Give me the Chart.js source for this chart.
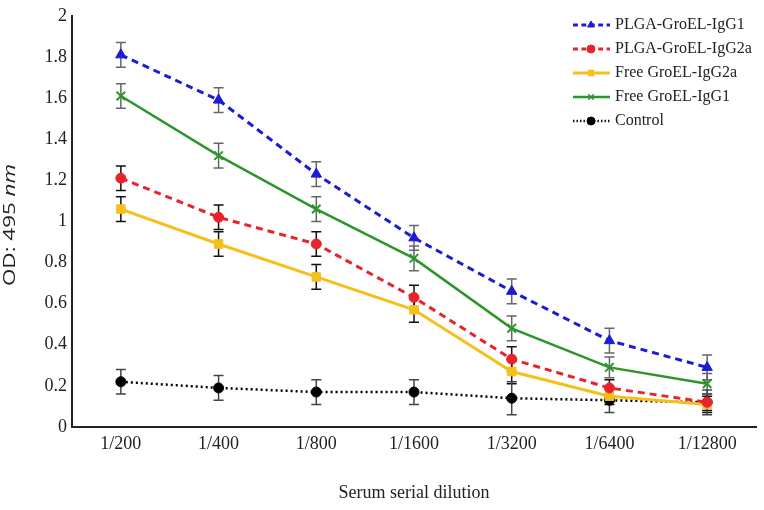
<!DOCTYPE html>
<html>
<head>
  <style>
    body { margin: 0; background: #fff; }
    canvas { display: block; }
  </style>
</head>
<body>
  <canvas id="odChart" width="764" height="510"></canvas>

  <script src="https://cdn.jsdelivr.net/npm/chart.js"></script>
  <script type="text/javascript">
    // dilutions on the x axis
    const dilutions = ['1/200', '1/400', '1/800', '1/1600', '1/3200', '1/6400', '1/12800'];

    // OD values, with their error bar half-heights
    const plgaIgG1 = [1.81, 1.59, 1.23, 0.92, 0.66, 0.42, 0.29];
    const plgaIgG1Err = [0.06, 0.06, 0.06, 0.06, 0.06, 0.06, 0.06];
    const plgaIgG2a = [1.21, 1.02, 0.89, 0.63, 0.33, 0.19, 0.12];
    const plgaIgG2aErr = [0.06, 0.06, 0.06, 0.06, 0.06, 0.04, 0.04];
    const freeIgG2a = [1.06, 0.89, 0.73, 0.57, 0.27, 0.15, 0.11];
    const freeIgG2aErr = [0.06, 0.06, 0.06, 0.06, 0.06, 0.04, 0.04];
    const freeIgG1 = [1.61, 1.32, 1.06, 0.82, 0.48, 0.29, 0.21];
    const freeIgG1Err = [0.06, 0.06, 0.06, 0.06, 0.06, 0.05, 0.05];
    const control = [0.22, 0.19, 0.17, 0.17, 0.14, 0.13, 0.12];
    const controlErr = [0.06, 0.06, 0.06, 0.06, 0.08, 0.06, 0.06];

    const serif = "'Liberation Serif', 'DejaVu Serif', serif";
    const sans = "'Open Sans', 'Noto Sans', sans-serif";

    function series(label, data, err, color, dash, width, style, radius, errColor) {
        return {
            label: label,
            data: data,
            err: err,
            errColor: errColor,
            borderColor: color,
            backgroundColor: color,
            borderDash: dash,
            borderWidth: width,
            pointStyle: style,
            pointRadius: radius,
            pointBorderWidth: style === 'crossRot' ? 2 : 1,
            tension: 0,
            fill: false
        };
    }

    const datasets = [
        series('PLGA-GroEL-IgG1', plgaIgG1, plgaIgG1Err, '#1c1cd6', [7, 5], 3, 'triangle', 6, '#666'),
        series('PLGA-GroEL-IgG2a', plgaIgG2a, plgaIgG2aErr, '#e8232a', [7, 5], 3, 'circle', 5, '#111'),
        series('Free GroEL-IgG2a', freeIgG2a, freeIgG2aErr, '#f4c01c', [], 3, 'rect', 6, '#111'),
        series('Free GroEL-IgG1', freeIgG1, freeIgG1Err, '#2c962c', [], 2.5, 'crossRot', 6, '#666'),
        series('Control', control, controlErr, '#000', [2, 3], 2.5, 'circle', 5, '#444')
    ];

    const extras = {
        id: 'extras',
        beforeDatasetsDraw(chart) {
            const ctx = chart.ctx;
            const y = chart.scales.y;
            ctx.save();
            ctx.lineWidth = 1.5;
            chart.data.datasets.forEach((ds, i) => {
                const meta = chart.getDatasetMeta(i);
                ctx.strokeStyle = ds.errColor;
                ds.data.forEach((v, j) => {
                    const x = meta.data[j].x;
                    const top = y.getPixelForValue(v + ds.err[j]);
                    const bot = y.getPixelForValue(v - ds.err[j]);
                    ctx.beginPath();
                    ctx.moveTo(x, top); ctx.lineTo(x, bot);
                    ctx.moveTo(x - 5, top); ctx.lineTo(x + 5, top);
                    ctx.moveTo(x - 5, bot); ctx.lineTo(x + 5, bot);
                    ctx.stroke();
                });
            });
            ctx.restore();
        },
        afterDraw(chart) {
            const ctx = chart.ctx;
            const area = chart.chartArea;
            ctx.save();
            ctx.fillStyle = '#222';

            // x title
            ctx.font = '18px ' + serif;
            ctx.textAlign = 'center';
            ctx.textBaseline = 'middle';
            ctx.fillText('Serum serial dilution', (area.left + area.right) / 2, 493);

            // y title with italic unit (narrow, tall face like the original)
            const part1 = 'OD: 495 ';
            const part2 = 'nm';
            ctx.font = '19px ' + sans;
            const w1 = ctx.measureText(part1).width;
            ctx.font = 'italic 19px ' + sans;
            const w2 = ctx.measureText(part2).width;
            ctx.translate(15, 225);
            ctx.rotate(-Math.PI / 2);
            ctx.scale(1.18, 0.85);
            ctx.textAlign = 'left';
            ctx.textBaseline = 'alphabetic';
            ctx.font = '19px ' + sans;
            ctx.fillText(part1, -(w1 + w2) / 2, 0);
            ctx.font = 'italic 19px ' + sans;
            ctx.fillText(part2, -(w1 + w2) / 2 + w1, 0);
            ctx.restore();

            // legend
            ctx.save();
            chart.data.datasets.forEach((ds, i) => {
                const ly = 25 + i * 24;
                ctx.strokeStyle = ds.borderColor;
                ctx.fillStyle = ds.borderColor;
                ctx.lineWidth = ds.borderWidth;
                ctx.setLineDash(ds.borderDash.map(d => d * 0.7));
                ctx.beginPath();
                ctx.moveTo(573, ly); ctx.lineTo(610, ly);
                ctx.stroke();
                ctx.setLineDash([]);
                ctx.lineWidth = ds.pointStyle === 'crossRot' ? 1.5 : 1;
                Chart.helpers.drawPoint(ctx, {
                    pointStyle: ds.pointStyle, rotation: 0, radius: 4,
                    borderWidth: ctx.lineWidth
                }, 591, ly);
                ctx.fillStyle = '#222';
                ctx.font = '16px ' + serif;
                ctx.textAlign = 'left';
                ctx.textBaseline = 'middle';
                ctx.fillText(ds.label, 615, ly);
            });
            ctx.restore();
        }
    };

    new Chart(document.getElementById('odChart'), {
        type: 'line',
        data: { labels: dilutions, datasets: datasets },
        options: {
            responsive: false,
            animation: false,
            layout: { padding: { top: 13, right: 4, left: 0, bottom: 0 } },
            plugins: {
                legend: { display: false },
                tooltip: { enabled: false }
            },
            scales: {
                x: {
                    offset: true,
                    grid: { display: false, drawTicks: false },
                    border: { color: '#222', width: 2 },
                    ticks: { color: '#222', padding: 6, maxRotation: 0, font: { family: serif, size: 18 } },
                    afterFit(scale) { scale.height = 83; }
                },
                y: {
                    min: 0,
                    max: 2,
                    grid: { display: false, drawTicks: false },
                    border: { color: '#222', width: 2 },
                    ticks: {
                        stepSize: 0.2,
                        color: '#222',
                        padding: 5,
                        font: { family: serif, size: 18 },
                        callback: v => String(Math.round(v * 10) / 10)
                    },
                    afterFit(scale) { scale.width = 72; }
                }
            }
        },
        plugins: [extras]
    });
  </script>
</body>
</html>
